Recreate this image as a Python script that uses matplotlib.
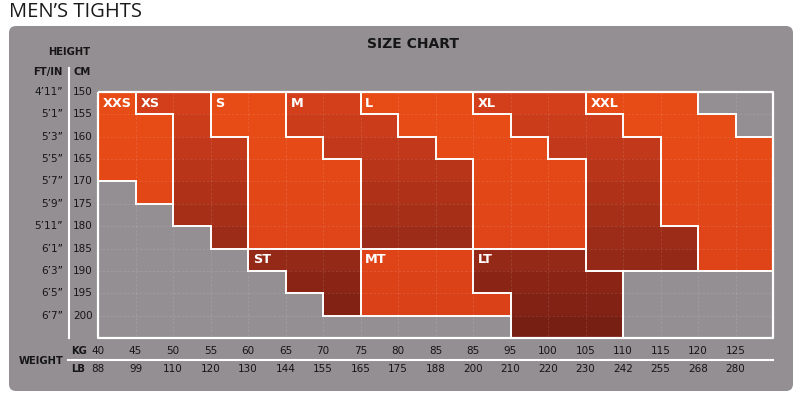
import matplotlib
matplotlib.use('Agg')
import matplotlib.pyplot as plt
import numpy as np
from matplotlib.patches import FancyBboxPatch
from matplotlib.collections import LineCollection
from matplotlib.transforms import blended_transform_factory

plt.rcParams['font.family'] = ['DejaVu Sans']

# weight axis: one column per step, labels sit on the left edge of each column
kg = ['40', '45', '50', '55', '60', '65', '70', '75', '80', '85', '85', '95',
      '100', '105', '110', '115', '120', '125']
lb = ['88', '99', '110', '120', '130', '144', '155', '165', '175', '188', '200',
      '210', '220', '230', '242', '255', '268', '280']
# height axis: one row per 5 cm
cm = [150, 155, 160, 165, 170, 175, 180, 185, 190, 195, 200]
ft_in = ['4’11”', '5’1”', '5’3”', '5’5”', '5’7”', '5’9”', '5’11”', '6’1”',
         '6’3”', '6’5”', '6’7”']

# size areas: (weight column, first cm row, last cm row)
XXS = [(0, 150, 165), (1, 155, 170)]
XS = [(1, 150, 150), (2, 150, 175), (3, 160, 180)]
S = [(3, 150, 155), (4, 150, 180), (5, 160, 180), (6, 165, 180)]
M = [(5, 150, 155), (6, 150, 160), (7, 155, 180), (8, 160, 180), (9, 165, 180)]
L = [(7, 150, 150), (8, 150, 155), (9, 150, 160), (10, 155, 180), (11, 160, 180),
     (12, 165, 180)]
XL = [(10, 150, 150), (11, 150, 155), (12, 150, 160), (13, 155, 185),
      (14, 160, 185), (15, 175, 185)]
XXL = [(13, 150, 150), (14, 150, 155), (15, 150, 175), (16, 155, 185),
       (17, 160, 185)]
ST = [(4, 185, 185), (5, 185, 190), (6, 185, 195)]
MT = [(7, 185, 195), (8, 185, 195), (9, 185, 195), (10, 195, 195)]
LT = [(10, 185, 190), (11, 185, 200), (12, 185, 200), (13, 190, 200)]

sizes = {'XXS': XXS, 'XS': XS, 'S': S, 'M': M, 'L': L, 'XL': XL, 'XXL': XXL,
         'ST': ST, 'MT': MT, 'LT': LT}
dark = ['XS', 'M', 'XL', 'ST', 'LT']

GRAY = '#948f92'
INK = '#161616'
bright_top, bright_bot = np.array([232, 76, 22]), np.array([217, 64, 25])
dark_top, dark_bot = np.array([211, 63, 27]), np.array([120, 31, 20])

fig = plt.figure(figsize=(8, 3.99), dpi=100)
bg = fig.add_axes([0, 0, 1, 1])
bg.set_xlim(0, 800)
bg.set_ylim(399, 0)
bg.axis('off')

bg.add_patch(FancyBboxPatch((9, 26), 784, 365, boxstyle='round,pad=0,rounding_size=7',
                            fc=GRAY, ec='none', zorder=0))
bg.text(9, 12, 'MEN’S TIGHTS', fontsize=14.5, color='#1a1a1a', va='center', ha='left',
        family=['Open Sans', 'DejaVu Sans'])
bg.text(413, 44, 'SIZE CHART', fontsize=10, fontweight='bold', color=INK,
        va='center', ha='center')
bg.text(69, 52, 'HEIGHT', fontsize=7.2, fontweight='bold', color=INK, va='center', ha='center')
bg.text(63, 72, 'FT/IN', fontsize=7.2, fontweight='bold', color=INK, va='center', ha='right')
bg.text(73, 72, 'CM', fontsize=7.2, fontweight='bold', color=INK, va='center', ha='left')
bg.text(41, 361, 'WEIGHT', fontsize=7.2, fontweight='bold', color=INK, va='center', ha='center')
bg.text(71, 351, 'KG', fontsize=7.2, fontweight='bold', color=INK, va='center', ha='left')
bg.text(71, 369, 'LB', fontsize=7.2, fontweight='bold', color=INK, va='center', ha='left')
bg.plot([68.5, 68.5], [68, 338], color='white', lw=1.5, zorder=2)
bg.plot([68, 773], [360, 360], color='white', lw=1.5, zorder=2)

# grid area
ax = fig.add_axes([98 / 800, 1 - 338 / 399, 675 / 800, 246 / 399])
ax.set_xlim(0, len(kg))
ax.set_ylim(cm[-1] + 5, cm[0])
ax.axis('off')
ax.patch.set_visible(False)

owner = {}
xs, bottoms, heights, colors = [], [], [], []
for name, spans in sizes.items():
    for col, top, last in spans:
        for h in range(top, last + 5, 5):
            owner[(col, h)] = name
            t = (h - cm[0]) / (cm[-1] - cm[0])
            a, b = (dark_top, dark_bot) if name in dark else (bright_top, bright_bot)
            colors.append(tuple((a + (b - a) * t) / 255))
            xs.append(col)
            bottoms.append(h)
            heights.append(5)
# empty cells
for col in range(len(kg)):
    for h in cm:
        if (col, h) not in owner:
            xs.append(col)
            bottoms.append(h)
            heights.append(5)
            colors.append(GRAY)
ax.bar(xs, heights, bottom=bottoms, width=1, align='edge', color=colors,
       edgecolor='none', zorder=1)

# faint grid
ax.vlines(range(1, len(kg)), cm[0], cm[-1] + 5, colors='white', alpha=0.12,
          lw=0.6, linestyles=(0, (3, 2)), zorder=2)
ax.hlines(cm[1:], 0, len(kg), colors='white', alpha=0.12, lw=0.6,
          linestyles=(0, (3, 2)), zorder=2)
tr_y = blended_transform_factory(bg.transData, ax.transData)
bg_lines = [[(68, h), (98, h)] for h in cm[1:]]
ax.add_collection(LineCollection(bg_lines, colors='white', alpha=0.1, lw=0.6,
                                 linestyles=(0, (3, 2)), transform=tr_y, zorder=2))

# white borders between size areas
segs = []
for col in range(len(kg)):
    for h in cm:
        me = owner.get((col, h))
        if col > 0 and owner.get((col - 1, h)) != me:
            segs.append([(col, h), (col, h + 5)])
        if h > cm[0] and owner.get((col, h - 5)) != me:
            segs.append([(col, h), (col + 1, h)])
ax.add_collection(LineCollection(segs, colors='white', lw=1.4, zorder=3,
                                 capstyle='projecting'))
ax.add_collection(LineCollection(
    [[(0, cm[0]), (len(kg), cm[0]), (len(kg), cm[-1] + 5), (0, cm[-1] + 5), (0, cm[0])]],
    colors='white', lw=1.6, zorder=3, clip_on=False))

for name, spans in sizes.items():
    col, top, _ = spans[0]
    ax.text(col + 0.13, top + 2.5, name, color='white', fontsize=9.3,
            fontweight='bold', va='center', ha='left', zorder=4)

# axis labels
for h, f in zip(cm, ft_in):
    ax.text(63, h, f, transform=tr_y, fontsize=7.5, color=INK, va='center', ha='right')
    ax.text(73, h, str(h), transform=tr_y, fontsize=7.5, color=INK, va='center', ha='left')
tr_x = blended_transform_factory(ax.transData, bg.transData)
for i, (k, p) in enumerate(zip(kg, lb)):
    ax.text(i, 351, k, transform=tr_x, fontsize=7.5, color=INK, va='center', ha='center')
    ax.text(i, 369, p, transform=tr_x, fontsize=7.5, color=INK, va='center', ha='center')

fig.savefig('out.png', dpi=100, facecolor='white')
